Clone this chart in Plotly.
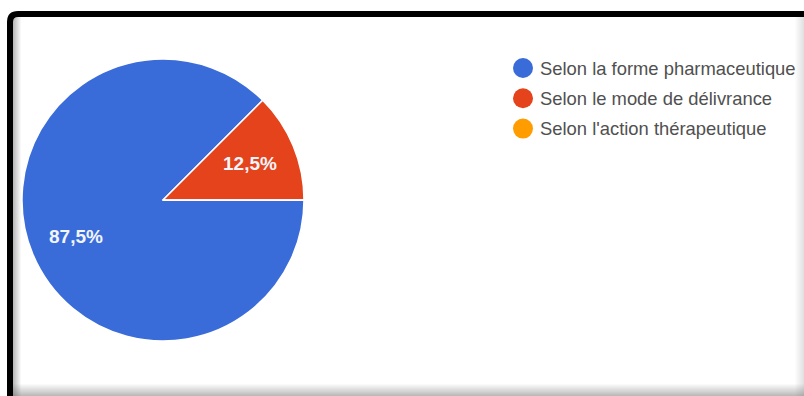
import math
import plotly.graph_objects as go

# Survey answers and their shares (%)
categories = [
    "Selon la forme pharmaceutique",
    "Selon le mode de délivrance",
    "Selon l'action thérapeutique",
]
shares = [87.5, 12.5, 0.0]
colors = ["#3a6cd9", "#e4431b", "#ff9d00"]

W, H = 804, 396
CX, CY, R = 163, 200, 141          # pie centre and radius in pixels
START = 90                          # first slice starts at 3 o'clock, clockwise


def px(x):
    return x / W


def py(y):
    return 1 - y / H


fig = go.Figure()

fig.add_trace(go.Pie(
    labels=categories,
    values=shares,
    marker=dict(colors=colors, line=dict(color="white", width=1.5)),
    sort=False,
    direction="clockwise",
    rotation=START,
    textinfo="none",
    showlegend=False,
    domain=dict(x=[px(CX - R), px(CX + R)], y=[py(CY + R), py(CY - R)]),
))

annotations = []
shapes = []

# Percentage labels placed along each slice's bisector
total = sum(shares)
cum = 0.0
for v in shares:
    if v > 0:
        a = math.radians(START + (cum + v / 2) / total * 360)
        lx = CX + 0.67 * R * math.sin(a)
        ly = CY - 0.67 * R * math.cos(a)
        txt = f"{v:.1f}".replace(".", ",") + "%"
        annotations.append(dict(
            x=px(lx), y=py(ly), xref="paper", yref="paper",
            text=f"<b>{txt}</b>", showarrow=False,
            xanchor="center", yanchor="middle",
            font=dict(family="Liberation Sans, Arial", size=19, color="#f2f5fc"),
        ))
    cum += v

# Legend: coloured dots with labels
LEG_X, LEG_Y0, LEG_DY, DOT_R = 523, 68, 30.3, 10
for i, (lab, col) in enumerate(zip(categories, colors)):
    yc = LEG_Y0 + i * LEG_DY
    shapes.append(dict(
        type="circle", xref="paper", yref="paper",
        x0=px(LEG_X - DOT_R), x1=px(LEG_X + DOT_R),
        y0=py(yc + DOT_R), y1=py(yc - DOT_R),
        fillcolor=col, line=dict(width=0),
    ))
    annotations.append(dict(
        x=px(538), y=py(yc), xref="paper", yref="paper",
        text=lab, showarrow=False, xanchor="left", yanchor="middle",
        font=dict(family="Liberation Sans, Arial", size=18.4, color="#505050"),
    ))

# Inner shadow of the frame (left, bottom, right edges)
for i in range(8):
    shapes.append(dict(
        type="rect", xref="paper", yref="paper", layer="above",
        x0=px(13 + i), x1=px(14 + i), y0=py(H), y1=py(17),
        fillcolor=f"rgba(90,90,90,{0.42 * (1 - i / 8):.3f})", line=dict(width=0),
    ))
for j in range(13):
    shapes.append(dict(
        type="rect", xref="paper", yref="paper", layer="above",
        x0=px(13), x1=px(W), y0=py(384 + j + 1), y1=py(384 + j),
        fillcolor=f"rgba(90,90,90,{0.03 + 0.42 * j / 12:.3f})", line=dict(width=0),
    ))
for k in range(9):
    shapes.append(dict(
        type="rect", xref="paper", yref="paper", layer="above",
        x0=px(795 + k), x1=px(796 + k), y0=py(H), y1=py(17),
        fillcolor=f"rgba(120,120,120,{0.02 + 0.2 * k / 8:.3f})", line=dict(width=0),
    ))

# Black frame with a rounded top-left corner
path = (f"M {px(10)},{py(H + 20)} L {px(10)},{py(22)} "
        f"Q {px(10)},{py(14)} {px(18)},{py(14)} L {px(W + 20)},{py(14)}")
shapes.append(dict(
    type="path", xref="paper", yref="paper", path=path, layer="above",
    line=dict(color="black", width=6),
))

fig.update_layout(
    width=W, height=H,
    margin=dict(l=0, r=0, t=0, b=0),
    paper_bgcolor="white", plot_bgcolor="white",
    separators=", ",
    annotations=annotations,
    shapes=shapes,
)

fig.write_html("out.html", config={"displayModeBar": False})
